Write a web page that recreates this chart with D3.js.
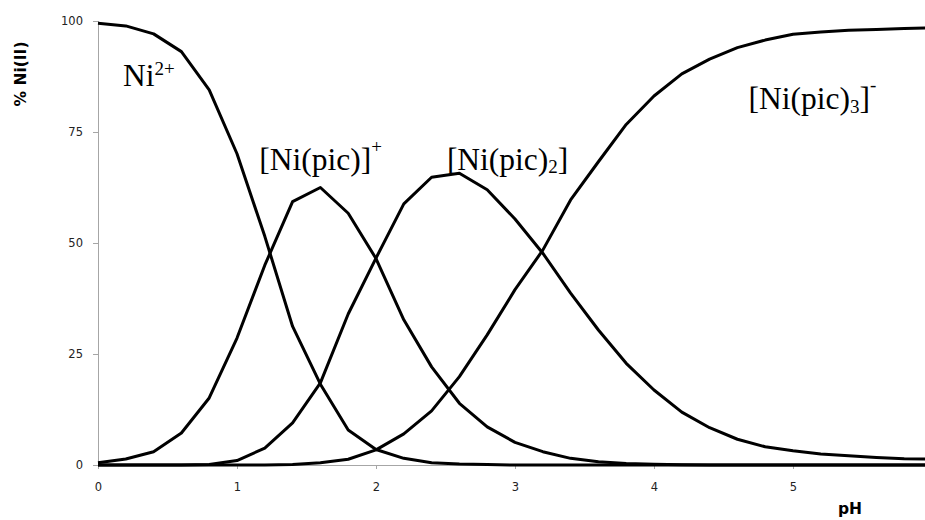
<!DOCTYPE html>
<html>
<head>
<meta charset="utf-8">
<script src="https://cdn.jsdelivr.net/npm/d3@7"></script>
<style>
  html, body { margin: 0; padding: 0; background: #fff; overflow: hidden; }
  svg { display: block; }
</style>
</head>
<body>
<svg id="chart" width="925" height="520"></svg>
<script>
/* pH points, one every 0.2 */
const pH = [0, 0.2, 0.4, 0.6, 0.8, 1.0, 1.2, 1.4, 1.6, 1.8, 2.0, 2.2, 2.4, 2.6, 2.8, 3.0,
            3.2, 3.4, 3.6, 3.8, 4.0, 4.2, 4.4, 4.6, 4.8, 5.0, 5.2, 5.4, 5.6, 5.8, 6.0];

/* % of Ni(II) in each species */
const ni = [99.5, 98.9, 97.1, 93.1, 84.5, 70.1, 51.5, 31.2, 18.2, 7.9, 3.5, 1.5, 0.5, 0.2, 0.1, 0,
            0, 0, 0, 0, 0, 0, 0, 0, 0, 0, 0, 0, 0, 0, 0];
const niPic = [0.5, 1.35, 3.0, 7.2, 15.1, 28.6, 45.0, 59.3, 62.5, 56.7, 46.5, 32.7, 22.1, 13.9, 8.6, 5.1,
               3.0, 1.5, 0.75, 0.35, 0.15, 0.05, 0, 0, 0, 0, 0, 0, 0, 0, 0];
const niPic2 = [0, 0, 0, 0, 0.1, 1.0, 3.8, 9.5, 18.5, 34.0, 46.6, 58.8, 64.8, 65.7, 62.0, 55.4,
                47.7, 38.7, 30.4, 22.9, 16.9, 11.9, 8.4, 5.8, 4.1, 3.2, 2.5, 2.1, 1.7, 1.4, 1.3];
const niPic3 = [0, 0, 0, 0, 0, 0, 0, 0.1, 0.5, 1.3, 3.4, 7.0, 12.2, 19.9, 29.3, 39.5,
                48.4, 59.7, 68.3, 76.7, 83.1, 88.1, 91.4, 94.0, 95.7, 97.0, 97.5, 97.9, 98.1, 98.3, 98.5];

const xTicks = [0, 1, 2, 3, 4, 5];
const yTicks = [0, 25, 50, 75, 100];

/* species labels: [pH, %] anchor of the baseline start */
const labels = [
  { pos: [0.18, 85.4], parts: [["Ni", 0], ["2+", -11, "sup"]] },
  { pos: [1.16, 66.4], parts: [["[Ni(pic)]", 0], ["+", -17, "sup"]] },
  { pos: [2.51, 66.4], parts: [["[Ni(pic)", 0], ["2", 3, "sub"], ["]", -3]] },
  { pos: [4.68, 80.1], parts: [["[Ni(pic)", 0], ["3", 4, "sub"], ["]", -4], ["-", -18, "sup"]] }
];

const series = [ni, niPic, niPic2, niPic3];

const svg = d3.select("#chart");
const margin = { left: 98, top: 21, bottom: 55 };
const height = 520;

const x = d3.scaleLinear().domain([0, 6]).range([margin.left, margin.left + 139 * 6]);
const y = d3.scaleLinear().domain([0, 100]).range([height - margin.bottom, margin.top]);

const axisColor = "#a6a6a6";
const tickFont = "'DejaVu Sans', Verdana, sans-serif";

/* y axis */
const gy = svg.append("g")
  .attr("transform", `translate(${margin.left},0)`)
  .call(d3.axisLeft(y).tickValues(yTicks).tickSize(5).tickPadding(10).tickFormat(d3.format("d")));
gy.select(".domain").attr("stroke", axisColor).attr("d", `M0.5,${y(100)}V${y(0)}`);
gy.selectAll(".tick line").attr("stroke", axisColor);
gy.selectAll(".tick text")
  .attr("font-family", tickFont).attr("font-size", "11.5px").attr("fill", "#222");

/* x axis */
const gx = svg.append("g")
  .attr("transform", `translate(0,${y(0)})`)
  .call(d3.axisBottom(x).tickValues(xTicks).tickSize(4).tickPadding(14).tickFormat(d3.format("d")));
gx.select(".domain").attr("stroke", axisColor).attr("d", `M${x(0)},0.5H925`);
gx.selectAll(".tick line").attr("stroke", axisColor);
gx.selectAll(".tick text")
  .attr("font-family", tickFont).attr("font-size", "11.5px").attr("fill", "#222");

/* axis titles */
svg.append("text")
  .attr("transform", `translate(26,74) rotate(-90)`)
  .attr("text-anchor", "middle")
  .attr("font-family", "'DejaVu Sans', Arial, sans-serif")
  .attr("font-weight", "bold")
  .attr("font-size", "15.5px")
  .attr("fill", "#000")
  .text("% Ni(II)");

svg.append("text")
  .attr("x", 850).attr("y", 514)
  .attr("text-anchor", "middle")
  .attr("font-family", "'DejaVu Sans', Arial, sans-serif")
  .attr("font-weight", "bold")
  .attr("font-size", "15.5px")
  .attr("fill", "#000")
  .text("pH");

/* curves */
const line = d3.line()
  .x((d, i) => x(pH[i]))
  .y(d => y(d));

svg.append("g")
  .selectAll("path")
  .data(series)
  .join("path")
  .attr("d", line)
  .attr("fill", "none")
  .attr("stroke", "#000")
  .attr("stroke-width", 3)
  .attr("stroke-linejoin", "round");

/* species labels */
const lab = svg.append("g")
  .attr("font-family", "'Liberation Serif', 'Times New Roman', serif")
  .attr("fill", "#000")
  .selectAll("text")
  .data(labels)
  .join("text")
  .attr("x", d => x(d.pos[0]))
  .attr("y", d => y(d.pos[1]))
  .attr("font-size", "31.5px");

lab.each(function(d) {
  const t = d3.select(this);
  d.parts.forEach(p => {
    t.append("tspan")
      .attr("dy", p[1])
      .attr("font-size", p[2] ? "19px" : null)
      .text(p[0]);
  });
});
</script>
</body>
</html>
